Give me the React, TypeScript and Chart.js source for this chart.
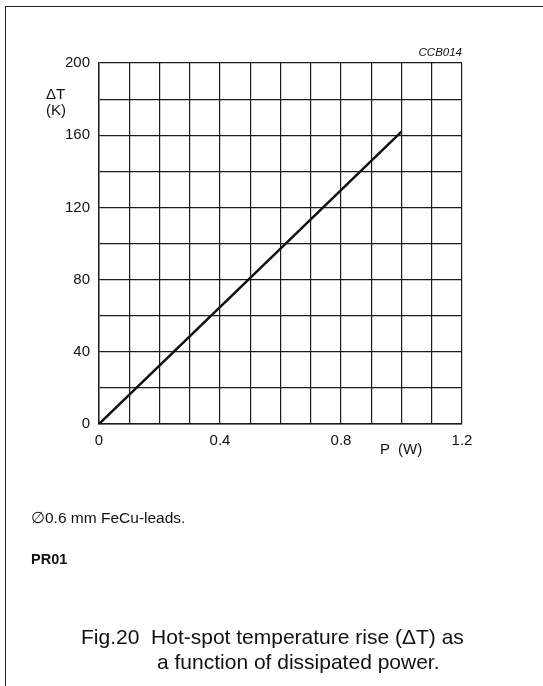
import React, { useEffect, useRef } from 'react';
import { Chart, registerables } from 'chart.js';

Chart.register(...registerables);

// Data (P in W, ΔT in K)
const powerW = [0, 0.5, 1.0];
const deltaTK = [0, 81, 162];

// Axis grid and labels
const xGridValues = [0, 0.1, 0.2, 0.3, 0.4, 0.5, 0.6, 0.7, 0.8, 0.9, 1.0, 1.1, 1.2];
const xLabelValues = [0, 0.4, 0.8, 1.2];
const xLabels = ['0', '0.4', '0.8', '1.2'];
const yGridValues = [0, 20, 40, 60, 80, 100, 120, 140, 160, 180, 200];
const yLabelValues = [0, 40, 80, 120, 160, 200];
const yLabels = ['0', '40', '80', '120', '160', '200'];

const FONT = '"Liberation Sans", Arial, Helvetica, sans-serif';
const INK = '#1a1a1a';

function labelFor(values: number[], labels: string[], v: number): string {
  const i = values.findIndex((x) => Math.abs(x - v) < 1e-6);
  return i >= 0 ? labels[i] : '';
}

export default function App() {
  const canvasRef = useRef<HTMLCanvasElement | null>(null);

  useEffect(() => {
    const canvas = canvasRef.current;
    if (!canvas) return;
    const chart = new Chart(canvas, {
      type: 'line',
      data: {
        datasets: [
          {
            data: powerW.map((p, i) => ({ x: p, y: deltaTK[i] })),
            borderColor: '#111',
            borderWidth: 2.5,
            pointRadius: 0,
            tension: 0,
            fill: false,
          },
        ],
      },
      options: {
        responsive: false,
        animation: false,
        devicePixelRatio: 1,
        layout: { padding: { top: 63, right: 81, bottom: 0, left: 0 } },
        plugins: { legend: { display: false }, tooltip: { enabled: false }, title: { display: false } },
        scales: {
          x: {
            type: 'linear',
            min: 0,
            max: 1.2,
            afterBuildTicks: (scale: any) => {
              scale.ticks = xGridValues.map((v) => ({ value: v }));
            },
            afterFit: (scale: any) => {
              scale.height = 262;
            },
            grid: { color: INK, lineWidth: 1.2, drawTicks: false },
            border: { display: true, color: INK, width: 1.4 },
            ticks: {
              autoSkip: false,
              maxRotation: 0,
              padding: 8,
              color: '#111',
              font: { family: FONT, size: 15 },
              callback: (v: any) => labelFor(xLabelValues, xLabels, Number(v)),
            },
          },
          y: {
            type: 'linear',
            min: 0,
            max: 200,
            afterBuildTicks: (scale: any) => {
              scale.ticks = yGridValues.map((v) => ({ value: v }));
            },
            afterFit: (scale: any) => {
              scale.width = 99;
            },
            grid: { color: INK, lineWidth: 1.2, drawTicks: false },
            border: { display: true, color: INK, width: 1.4 },
            ticks: {
              autoSkip: false,
              padding: 9,
              color: '#111',
              font: { family: FONT, size: 15 },
              callback: (v: any) => labelFor(yLabelValues, yLabels, Number(v)),
            },
          },
        },
      },
    } as any);
    return () => chart.destroy();
  }, []);

  const txt = (extra: React.CSSProperties): React.CSSProperties => ({
    position: 'absolute',
    fontFamily: FONT,
    color: '#111',
    whiteSpace: 'pre',
    lineHeight: 'normal',
    ...extra,
  });

  return (
    <div style={{ position: 'absolute', left: 0, top: 0, width: 543, height: 686, overflow: 'hidden', background: '#fff' }}>
      <div style={{ position: 'absolute', left: 5, top: 6, width: 700, height: 800, borderLeft: '1.5px solid #222', borderTop: '1.5px solid #222' }} />
      <canvas ref={canvasRef} width={543} height={686} style={{ position: 'absolute', left: 0, top: 0, width: 543, height: 686 }} />
      <div style={txt({ right: 543 - 462, top: 46, fontSize: 11.5, fontStyle: 'italic' })}>CCB014</div>
      <div style={txt({ left: 46, top: 85, fontSize: 15 })}>ΔT</div>
      <div style={txt({ left: 46, top: 101, fontSize: 15 })}>(K)</div>
      <div style={txt({ left: 380, top: 440, fontSize: 15 })}>P  (W)</div>
      <div style={txt({ left: 31, top: 509, fontSize: 15.5 })}>∅0.6 mm FeCu-leads.</div>
      <div style={txt({ left: 31, top: 551, fontSize: 14.5, fontWeight: 'bold' })}>PR01</div>
      <div style={txt({ left: 81, top: 625, fontSize: 21 })}>Fig.20  Hot-spot temperature rise (ΔT) as</div>
      <div style={txt({ left: 157, top: 650, fontSize: 21 })}>a function of dissipated power.</div>
    </div>
  );
}
